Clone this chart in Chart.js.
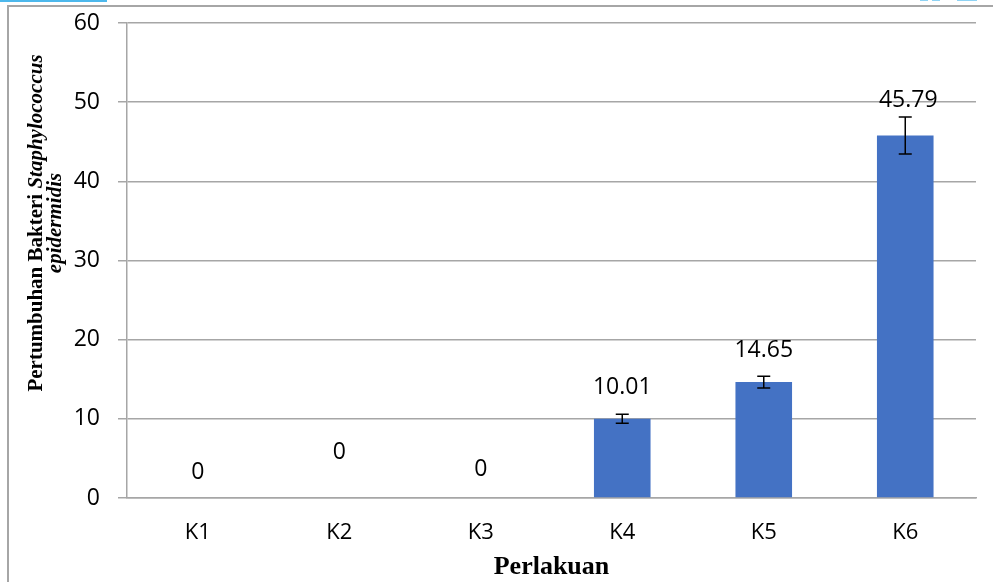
<!DOCTYPE html>
<html>
<head>
<meta charset="utf-8">
<script src="https://cdn.jsdelivr.net/npm/chart.js@4.4.0/dist/chart.umd.min.js"></script>
<style>
  html, body { margin: 0; padding: 0; background: #ffffff; }
  #wrap { width: 994px; height: 582px; position: relative; }
</style>
</head>
<body>
<div id="wrap"><canvas id="c" width="994" height="582"></canvas></div>
<script>
const categories = ['K1', 'K2', 'K3', 'K4', 'K5', 'K6'];
const means = [0, 0, 0, 10.01, 14.65, 45.79];
const errors = [0, 0, 0, 0.57, 0.74, 2.35];
const yTicks = [0, 10, 20, 30, 40, 50, 60];
const xTitle = 'Perlakuan';
const yTitleLine1 = ['Pertumbuhan Bakteri ', 'Staphylococcus'];
const yTitleLine2 = 'epidermidis';

const LABEL_FONT = '"Open Sans", "Noto Sans", sans-serif';
const GRID = '#a6a6a6';
const labelGap = [26, 46, 29, 27, 26, 16];

const decorPlugin = {
  id: 'decor',
  beforeDraw(chart) {
    const ctx = chart.ctx;
    ctx.save();
    ctx.fillStyle = '#ffffff';
    ctx.fillRect(0, 0, chart.width, chart.height);
    ctx.strokeStyle = '#a6a6a6';
    ctx.lineWidth = 2;
    ctx.beginPath();
    ctx.moveTo(8, 582); ctx.lineTo(8, 6); ctx.lineTo(993, 6);
    ctx.stroke();
    ctx.fillStyle = '#4db8ec';
    ctx.fillRect(0, 0, 107, 2);
    ctx.fillStyle = '#8fd3f4';
    ctx.fillRect(920, 0, 8, 1);
    ctx.fillRect(932, 0, 8, 1);
    ctx.fillRect(957, 0, 20, 1);
    ctx.restore();
  },
  afterDatasetsDraw(chart) {
    const ctx = chart.ctx;
    const ys = chart.scales.y;
    const meta = chart.getDatasetMeta(0);
    ctx.save();
    ctx.strokeStyle = '#000000';
    ctx.lineWidth = 1.5;
    meta.data.forEach((bar, i) => {
      const e = errors[i];
      if (!e) return;
      const x = bar.x;
      const yt = ys.getPixelForValue(means[i] + e);
      const yb = ys.getPixelForValue(means[i] - e);
      ctx.beginPath();
      ctx.moveTo(x, yt); ctx.lineTo(x, yb);
      ctx.moveTo(x - 6.5, yt); ctx.lineTo(x + 6.5, yt);
      ctx.moveTo(x - 6.5, yb); ctx.lineTo(x + 6.5, yb);
      ctx.stroke();
    });
    ctx.fillStyle = '#000000';
    ctx.font = '23px ' + LABEL_FONT;
    ctx.textAlign = 'center';
    ctx.textBaseline = 'middle';
    meta.data.forEach((bar, i) => {
      const top = ys.getPixelForValue(means[i] + errors[i]);
      ctx.fillText(String(means[i]), bar.x + (i === 5 ? 3 : 0), top - labelGap[i]);
    });
    ctx.restore();
  },
  afterDraw(chart) {
    const ctx = chart.ctx;
    const ca = chart.chartArea;
    ctx.save();
    ctx.fillStyle = '#000000';
    ctx.font = 'bold 26px "Liberation Serif", "Times New Roman", serif';
    ctx.textAlign = 'center';
    ctx.textBaseline = 'middle';
    ctx.fillText(xTitle, (ca.left + ca.right) / 2, ca.bottom + 69);
    const cy = 223;
    const f1 = 'bold 21px "Liberation Serif", "Times New Roman", serif';
    const f2 = 'italic bold 21px "Liberation Serif", "Times New Roman", serif';
    ctx.translate(37, cy);
    ctx.rotate(-Math.PI / 2);
    ctx.font = f1; const w1 = ctx.measureText(yTitleLine1[0]).width;
    ctx.font = f2; const w2 = ctx.measureText(yTitleLine1[1]).width;
    const sx = -(w1 + w2) / 2;
    ctx.textAlign = 'left';
    ctx.font = f1; ctx.fillText(yTitleLine1[0], sx, 0);
    ctx.font = f2; ctx.fillText(yTitleLine1[1], sx + w1, 0);
    ctx.textAlign = 'center';
    ctx.fillText(yTitleLine2, 0, 19);
    ctx.restore();
  }
};

new Chart(document.getElementById('c'), {
  type: 'bar',
  data: {
    labels: categories,
    datasets: [{
      data: means,
      backgroundColor: '#4472c4',
      borderWidth: 0,
      categoryPercentage: 1.0,
      barPercentage: 0.4
    }]
  },
  options: {
    responsive: false,
    animation: false,
    devicePixelRatio: 1,
    layout: { padding: { left: 0, top: 23, right: 18, bottom: 0 } },
    plugins: { legend: { display: false }, tooltip: { enabled: false } },
    scales: {
      x: {
        offset: true,
        grid: { display: false, drawTicks: false },
        border: { display: true, color: GRID, width: 1.5 },
        ticks: { color: '#000', font: { family: LABEL_FONT, size: 22 }, padding: 22 },
        afterFit(s) { s.height = 84; s.paddingLeft = 0; s.paddingRight = 0; }
      },
      y: {
        min: 0, max: 60,
        afterBuildTicks(s) { s.ticks = yTicks.map(v => ({ value: v })); },
        grid: { color: GRID, lineWidth: 1.5, tickLength: 9, drawTicks: true },
        border: { display: true, color: GRID, width: 1.5 },
        ticks: { color: '#000', font: { family: LABEL_FONT, size: 23 }, padding: 18 },
        afterFit(s) { s.width = 127; s.paddingTop = 0; s.paddingBottom = 0; }
      }
    }
  },
  plugins: [decorPlugin]
});
</script>
</body>
</html>
